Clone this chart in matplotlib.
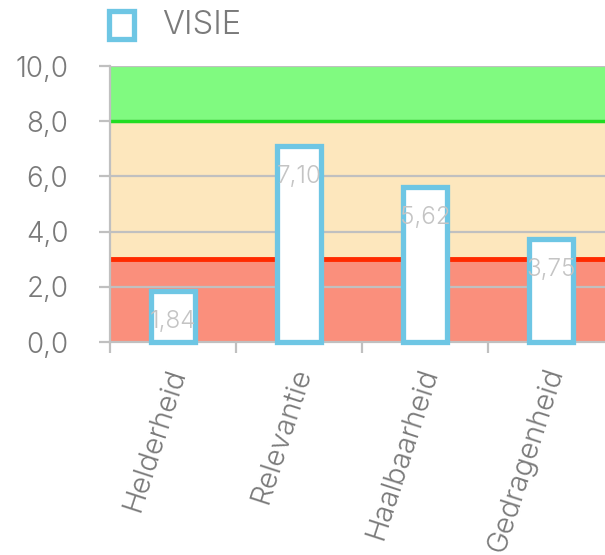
import matplotlib
matplotlib.use("Agg")
import matplotlib.pyplot as plt
from matplotlib.ticker import FixedLocator, FuncFormatter

categories = ["Helderheid", "Relevantie", "Haalbaarheid", "Gedragenheid"]
scores = [1.84, 7.10, 5.62, 3.75]
series_name = "VISIE"

# score bands: (bottom, top, colour)
bands = [(0, 3, "#fa8f7c"), (3, 8, "#fde7bd"), (8, 10, "#80fa80")]
band_lines = [(3, "#ff2a00"), (8, "#22dd22")]

FONT = ["Inter", "DejaVu Sans"]
W = 300
TXT = "#7a7a7a"
GRID = "#c0c0c0"
EDGE = "#6ec6e4"

fig = plt.figure(figsize=(6.05, 5.55), dpi=100)
ax = fig.add_axes([110 / 605, 1 - 342 / 555, 495 / 605, 276 / 555])

for lo, hi, col in bands:
    ax.axhspan(lo, hi, color=col, lw=0, zorder=0)
for y, col in band_lines:
    ax.axhline(y, color=col, lw=3.5 if y == 3 else 2.5, zorder=2)

for y in [2, 4, 6, 8, 10]:
    ax.axhline(y, color=GRID, lw=1.6, zorder=1)

x = list(range(len(categories)))
bars = ax.bar(x, scores, width=0.35, color="white", edgecolor=EDGE,
              linewidth=3.8, zorder=3, clip_on=False)

for xi, v in zip(x, scores):
    ax.annotate(f"{v:.2f}".replace(".", ","), (xi, v), xytext=(0, -22),
                textcoords="offset points", ha="center", va="center",
                fontsize=17.5, color="#c4c4c4", family=FONT, weight=W, zorder=4)

ax.set_xlim(-0.5, -0.5 + 495 / 126)
ax.set_ylim(0, 10)

ax.yaxis.set_major_locator(FixedLocator([0, 2, 4, 6, 8, 10]))
ax.yaxis.set_major_formatter(FuncFormatter(lambda v, p: f"{v:.1f}".replace(".", ",")))
ax.tick_params(axis="y", length=8, width=1.6, color=GRID, labelsize=20,
               labelcolor=TXT, pad=22)

ax.xaxis.set_major_locator(FixedLocator([i - 0.5 for i in range(len(categories) + 1)]))
ax.xaxis.set_major_formatter(FuncFormatter(lambda v, p: ""))
ax.tick_params(axis="x", which="major", length=8, width=1.6, color=GRID)
for xi, name in zip(x, categories):
    ax.text(xi + 0.04, -0.98, name, rotation=72, rotation_mode="anchor",
            ha="right", va="center", fontsize=21, color=TXT,
            family=FONT, weight=W, transform=ax.transData, clip_on=False)

for lbl in ax.get_yticklabels():
    lbl.set_family(FONT)
    lbl.set_weight(W)

for side in ["top", "right"]:
    ax.spines[side].set_visible(False)
for side in ["left", "bottom"]:
    ax.spines[side].set_color(GRID)
    ax.spines[side].set_linewidth(1.6)

# legend
fig.patches.append(plt.Rectangle((109 / 605, 1 - 39 / 555), 25 / 605, 28 / 555,
                                 transform=fig.transFigure, facecolor="white",
                                 edgecolor=EDGE, lw=3.8))
fig.text(162 / 605, 1 - 25 / 555, series_name, fontsize=23.5, color=TXT,
         family=FONT, weight=W, va="center", ha="left")

fig.savefig("out.png", dpi=100)
